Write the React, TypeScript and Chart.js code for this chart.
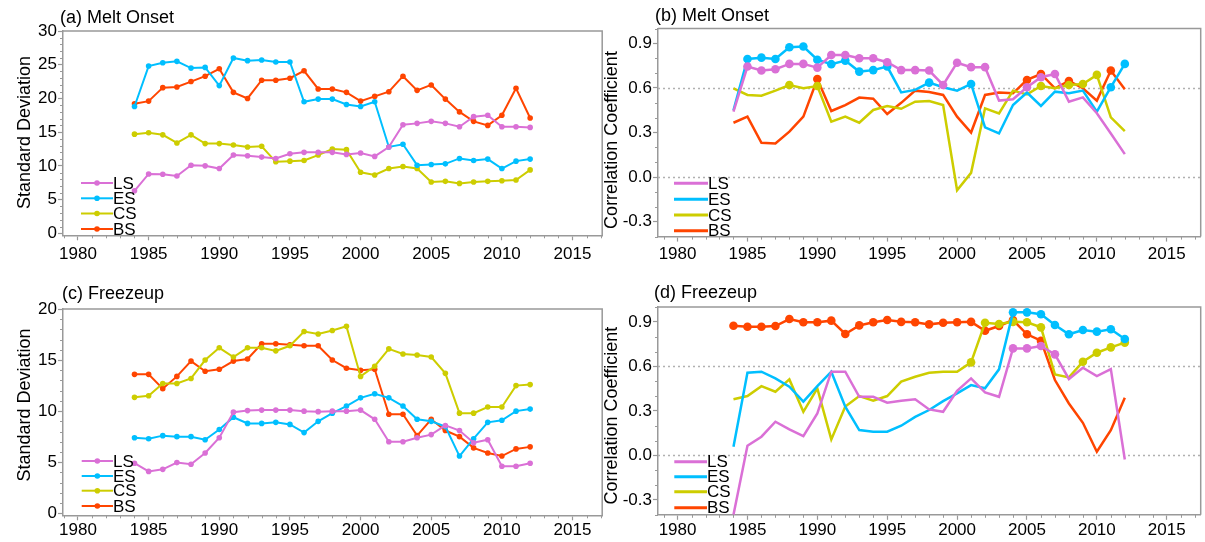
import React, { useEffect, useRef } from 'react';
import { Chart, registerables } from 'chart.js';

Chart.register(...registerables);

const FONT = '"Liberation Sans", Arial, Helvetica, sans-serif';
const AXIS_GRAY = '#999999';

// ---------- data ----------
const years = [1984, 1985, 1986, 1987, 1988, 1989, 1990, 1991, 1992, 1993, 1994, 1995, 1996, 1997, 1998,
  1999, 2000, 2001, 2002, 2003, 2004, 2005, 2006, 2007, 2008, 2009, 2010, 2011, 2012];
const seriesNames = ['LS', 'ES', 'CS', 'BS'];
const seriesColors = ['#DA70D6', '#00BFFF', '#CDCD00', '#FF4500'];

const xTickYears = [1980, 1985, 1990, 1995, 2000, 2005, 2010, 2015];
const sdTicksMelt = [0, 5, 10, 15, 20, 25, 30];
const sdTicksFreeze = [0, 5, 10, 15, 20];
const corrTicks = [-0.3, 0, 0.3, 0.6, 0.9];
const corrRefLines = [0, 0.6];

// (a) Melt onset, standard deviation
const meltSdLS = [6.3, 8.8, 8.75, 8.5, 10.1, 10.0, 9.6, 11.6, 11.5, 11.3, 11.1, 11.8, 12.0, 12.0, 12.0, 11.7, 11.9, 11.4, 12.8, 16.1, 16.3, 16.6, 16.3, 15.8, 17.3, 17.5, 15.8, 15.8, 15.7];
const meltSdES = [18.8, 24.8, 25.3, 25.5, 24.5, 24.6, 21.9, 26.0, 25.6, 25.7, 25.4, 25.4, 19.5, 19.9, 19.9, 19.1, 18.8, 19.5, 12.8, 13.2, 10.1, 10.2, 10.3, 11.1, 10.8, 11.0, 9.6, 10.7, 11.0];
const meltSdCS = [14.7, 14.9, 14.6, 13.4, 14.6, 13.3, 13.3, 13.1, 12.8, 12.9, 10.6, 10.7, 10.8, 11.6, 12.5, 12.4, 9.05, 8.65, 9.6, 9.9, 9.6, 7.6, 7.7, 7.4, 7.6, 7.7, 7.8, 7.9, 9.4];
const meltSdBS = [19.2, 19.6, 21.6, 21.7, 22.5, 23.3, 24.4, 20.9, 20.0, 22.7, 22.7, 23.0, 24.1, 21.4, 21.4, 20.9, 19.6, 20.3, 21.0, 23.3, 21.2, 22.0, 19.9, 18.0, 16.6, 16.0, 17.5, 21.5, 17.1];

// (b) Melt onset, correlation coefficient (+ significant-point flags)
const meltCorrLS = [0.44, 0.744, 0.717, 0.726, 0.762, 0.762, 0.737, 0.822, 0.822, 0.80, 0.80, 0.773, 0.72, 0.72, 0.717, 0.62, 0.77, 0.74, 0.74, 0.515, 0.524, 0.605, 0.672, 0.694, 0.508, 0.537, 0.43, 0.294, 0.155];
const meltCorrES = [0.45, 0.795, 0.804, 0.795, 0.874, 0.879, 0.79, 0.76, 0.784, 0.71, 0.72, 0.744, 0.57, 0.587, 0.636, 0.605, 0.582, 0.627, 0.335, 0.294, 0.485, 0.569, 0.479, 0.575, 0.564, 0.582, 0.44, 0.605, 0.762];
const meltCorrCS = [0.598, 0.553, 0.548, 0.582, 0.62, 0.598, 0.613, 0.373, 0.407, 0.366, 0.452, 0.479, 0.46, 0.508, 0.512, 0.485, -0.088, 0.029, 0.463, 0.429, 0.582, 0.557, 0.613, 0.598, 0.62, 0.627, 0.688, 0.402, 0.31];
const meltCorrBS = [0.366, 0.407, 0.231, 0.227, 0.306, 0.407, 0.66, 0.445, 0.485, 0.535, 0.528, 0.425, 0.50, 0.582, 0.573, 0.553, 0.407, 0.30, 0.553, 0.569, 0.564, 0.654, 0.694, 0.598, 0.647, 0.598, 0.515, 0.717, 0.591];
const meltSigLS = [0, 1, 1, 1, 1, 1, 1, 1, 1, 1, 1, 1, 1, 1, 1, 1, 1, 1, 1, 0, 0, 1, 1, 1, 0, 0, 0, 0, 0];
const meltSigES = [0, 1, 1, 1, 1, 1, 1, 1, 1, 1, 1, 1, 0, 0, 1, 0, 0, 1, 0, 0, 0, 0, 0, 0, 0, 0, 0, 1, 1];
const meltSigCS = [0, 0, 0, 0, 1, 0, 1, 0, 0, 0, 0, 0, 0, 0, 0, 0, 0, 0, 0, 0, 0, 0, 1, 0, 1, 1, 1, 0, 0];
const meltSigBS = [0, 0, 0, 0, 0, 0, 1, 0, 0, 0, 0, 0, 0, 0, 0, 0, 0, 0, 0, 0, 0, 1, 1, 0, 1, 0, 0, 1, 0];

// (c) Freezeup, standard deviation
const frzSdLS = [4.9, 4.1, 4.3, 4.96, 4.8, 5.9, 7.4, 9.9, 10.05, 10.1, 10.1, 10.1, 10.0, 9.95, 10.0, 10.0, 10.1, 9.2, 7.0, 7.0, 7.4, 7.7, 8.6, 8.1, 6.9, 7.2, 4.6, 4.6, 4.9];
const frzSdES = [7.4, 7.3, 7.6, 7.5, 7.5, 7.2, 8.2, 9.4, 8.8, 8.8, 8.9, 8.7, 7.9, 9.0, 9.8, 10.5, 11.3, 11.7, 11.3, 10.5, 9.2, 9.0, 8.5, 5.6, 7.3, 8.9, 9.1, 10.0, 10.2];
const frzSdCS = [11.35, 11.5, 12.7, 12.7, 13.2, 15.0, 16.2, 15.3, 16.2, 16.2, 15.9, 16.4, 17.8, 17.55, 17.9, 18.3, 13.4, 14.4, 16.1, 15.6, 15.5, 15.3, 13.7, 9.8, 9.8, 10.4, 10.4, 12.5, 12.6];
const frzSdBS = [13.6, 13.6, 12.2, 13.4, 14.9, 13.9, 14.1, 14.9, 15.1, 16.6, 16.6, 16.5, 16.4, 16.4, 15.0, 14.2, 14.0, 14.1, 9.7, 9.7, 7.6, 9.2, 8.1, 7.5, 6.4, 5.9, 5.6, 6.3, 6.5];

// (d) Freezeup, correlation coefficient (+ significant-point flags)
const frzCorrLS = [-0.40, 0.065, 0.126, 0.227, 0.175, 0.13, 0.283, 0.564, 0.564, 0.395, 0.395, 0.355, 0.369, 0.378, 0.31, 0.294, 0.436, 0.519, 0.425, 0.395, 0.721, 0.721, 0.737, 0.681, 0.515, 0.591, 0.535, 0.582, -0.027];
const frzCorrES = [0.058, 0.557, 0.564, 0.519, 0.463, 0.362, 0.467, 0.564, 0.328, 0.171, 0.16, 0.16, 0.20, 0.26, 0.306, 0.366, 0.418, 0.474, 0.452, 0.58, 0.964, 0.964, 0.951, 0.879, 0.816, 0.845, 0.834, 0.85, 0.784];
const frzCorrCS = [0.378, 0.40, 0.467, 0.429, 0.512, 0.294, 0.452, 0.108, 0.33, 0.40, 0.369, 0.40, 0.497, 0.53, 0.557, 0.564, 0.564, 0.627, 0.894, 0.885, 0.90, 0.897, 0.863, 0.546, 0.526, 0.631, 0.692, 0.728, 0.76];
const frzCorrBS = [0.874, 0.867, 0.867, 0.872, 0.919, 0.897, 0.897, 0.908, 0.818, 0.876, 0.897, 0.912, 0.90, 0.897, 0.883, 0.894, 0.897, 0.90, 0.84, 0.872, 0.912, 0.816, 0.773, 0.508, 0.35, 0.22, 0.025, 0.17, 0.389];
const frzSigLS = [0, 0, 0, 0, 0, 0, 0, 0, 0, 0, 0, 0, 0, 0, 0, 0, 0, 0, 0, 0, 1, 1, 1, 1, 0, 0, 0, 0, 0];
const frzSigES = [0, 0, 0, 0, 0, 0, 0, 0, 0, 0, 0, 0, 0, 0, 0, 0, 0, 0, 0, 0, 1, 1, 1, 1, 1, 1, 1, 1, 1];
const frzSigCS = [0, 0, 0, 0, 0, 0, 0, 0, 0, 0, 0, 0, 0, 0, 0, 0, 0, 1, 1, 1, 1, 1, 1, 0, 0, 1, 1, 1, 1];
const frzSigBS = [1, 1, 1, 1, 1, 1, 1, 1, 1, 1, 1, 1, 1, 1, 1, 1, 1, 1, 1, 1, 1, 1, 1, 0, 0, 0, 0, 0, 0];

// ---------- panel layout specs ----------
type Spec = {
  left: number; top: number; width: number; height: number;
  area: { left: number; top: number; right: number; bottom: number };
  xMin: number; xMax: number; yMin: number; yMax: number;
  yTicks: number[]; yMinorStep: number; corr: boolean;
  title: string; titleX: number; titleY: number;
  yTitle: string; yTitleX: number; yTitleY: number;
  series: number[][]; sig: number[][] | null;
  lineWidth: number; radius: number;
  legendX0: number; legendX1: number; legendRows: number[];
  xLabelPad: number;
};

const panels: Spec[] = [
  {
    left: 0, top: 0, width: 605, height: 270,
    area: { left: 63, top: 31, right: 602.5, bottom: 235.3 },
    xMin: 1978.94, xMax: 2017.1, yMin: -0.3, yMax: 30,
    yTicks: sdTicksMelt, yMinorStep: 1, corr: false,
    title: '(a) Melt Onset', titleX: 60, titleY: 18.5,
    yTitle: 'Standard Deviation', yTitleX: 25, yTitleY: 132.5,
    series: [meltSdLS, meltSdES, meltSdCS, meltSdBS], sig: null,
    lineWidth: 2, radius: 2.8,
    legendX0: 81, legendX1: 113, legendRows: [183, 198.3, 213.5, 229],
    xLabelPad: 4,
  },
  {
    left: 595, top: 0, width: 610, height: 270,
    area: { left: 63, top: 28.5, right: 608.3, bottom: 236.6 },
    xMin: 1978.6, xMax: 2017.43, yMin: -0.4, yMax: 1.0,
    yTicks: corrTicks, yMinorStep: 0.1, corr: true,
    title: '(b) Melt Onset', titleX: 60, titleY: 16.5,
    yTitle: 'Correlation Coefficient', yTitleX: 17, yTitleY: 140,
    series: [meltCorrLS, meltCorrES, meltCorrCS, meltCorrBS], sig: [meltSigLS, meltSigES, meltSigCS, meltSigBS],
    lineWidth: 2.5, radius: 4.3,
    legendX0: 79, legendX1: 113, legendRows: [183.3, 199.3, 215, 230.7],
    xLabelPad: 3,
  },
  {
    left: 0, top: 270, width: 605, height: 272,
    area: { left: 63, top: 39, right: 602.5, bottom: 245.3 },
    xMin: 1978.94, xMax: 2017.1, yMin: -0.2, yMax: 20,
    yTicks: sdTicksFreeze, yMinorStep: 1, corr: false,
    title: '(c) Freezeup', titleX: 62, titleY: 24,
    yTitle: 'Standard Deviation', yTitleX: 25, yTitleY: 135,
    series: [frzSdLS, frzSdES, frzSdCS, frzSdBS], sig: null,
    lineWidth: 2, radius: 2.8,
    legendX0: 81.7, legendX1: 113, legendRows: [191, 206, 220.7, 236],
    xLabelPad: 0,
  },
  {
    left: 595, top: 270, width: 610, height: 272,
    area: { left: 63, top: 37, right: 608.3, bottom: 244.8 },
    xMin: 1978.6, xMax: 2017.43, yMin: -0.4, yMax: 1.0,
    yTicks: corrTicks, yMinorStep: 0.1, corr: true,
    title: '(d) Freezeup', titleX: 59, titleY: 23,
    yTitle: 'Correlation Coefficient', yTitleX: 17, yTitleY: 145.7,
    series: [frzCorrLS, frzCorrES, frzCorrCS, frzCorrBS], sig: [frzSigLS, frzSigES, frzSigCS, frzSigBS],
    lineWidth: 2.5, radius: 4.3,
    legendX0: 79.3, legendX1: 112, legendRows: [191.7, 206.7, 221.7, 237.7],
    xLabelPad: 0,
  },
];

function decorPlugin(spec: Spec) {
  return {
    id: 'decor',
    beforeDatasetsDraw(chart: any) {
      if (!spec.corr) return;
      const { ctx, chartArea: a } = chart;
      const y = chart.scales.y;
      ctx.save();
      ctx.strokeStyle = '#b0b0b0';
      ctx.lineWidth = 1.5;
      ctx.setLineDash([2, 3]);
      for (const v of corrRefLines) {
        const py = Math.round(y.getPixelForValue(v)) + 0.5;
        ctx.beginPath();
        ctx.moveTo(a.left, py);
        ctx.lineTo(a.right, py);
        ctx.stroke();
      }
      ctx.restore();
    },
    afterDatasetsDraw(chart: any) {
      const { ctx } = chart;
      ctx.save();
      seriesNames.forEach((name, i) => {
        const yy = spec.legendRows[i];
        ctx.strokeStyle = seriesColors[i];
        ctx.lineWidth = spec.corr ? 3 : 2;
        ctx.beginPath();
        ctx.moveTo(spec.legendX0, yy);
        ctx.lineTo(spec.legendX1, yy);
        ctx.stroke();
        if (!spec.corr) {
          ctx.fillStyle = seriesColors[i];
          ctx.beginPath();
          ctx.arc((spec.legendX0 + spec.legendX1) / 2, yy, spec.radius, 0, Math.PI * 2);
          ctx.fill();
        }
        ctx.fillStyle = '#000';
        ctx.font = `17px ${FONT}`;
        ctx.textAlign = 'left';
        ctx.textBaseline = 'middle';
        ctx.fillText(name, spec.legendX1, yy + 1);
      });
      ctx.restore();
    },
    afterDraw(chart: any) {
      const { ctx, chartArea: a } = chart;
      const xs = chart.scales.x;
      const ys = chart.scales.y;
      ctx.save();
      // top and right frame lines
      ctx.strokeStyle = AXIS_GRAY;
      ctx.lineWidth = 1.5;
      ctx.beginPath();
      ctx.moveTo(a.left, a.top);
      ctx.lineTo(a.right, a.top);
      ctx.lineTo(a.right, a.bottom);
      ctx.stroke();
      // minor ticks
      ctx.lineWidth = 1;
      ctx.beginPath();
      for (let v = Math.ceil(spec.xMin); v <= spec.xMax; v++) {
        if (xTickYears.includes(v)) continue;
        const px = Math.round(xs.getPixelForValue(v)) + 0.5;
        ctx.moveTo(px, a.bottom);
        ctx.lineTo(px, a.bottom + 3);
      }
      const k0 = Math.ceil(spec.yMin / spec.yMinorStep - 1e-6);
      const k1 = Math.floor(spec.yMax / spec.yMinorStep + 1e-6);
      for (let k = k0; k <= k1; k++) {
        const v = k * spec.yMinorStep;
        if (spec.yTicks.some((t) => Math.abs(t - v) < 1e-6)) continue;
        const py = Math.round(ys.getPixelForValue(v)) + 0.5;
        ctx.moveTo(a.left, py);
        ctx.lineTo(a.left - 3, py);
      }
      ctx.stroke();
      // panel title
      ctx.fillStyle = '#000';
      ctx.font = `18px ${FONT}`;
      ctx.textAlign = 'left';
      ctx.textBaseline = 'middle';
      ctx.fillText(spec.title, spec.titleX, spec.titleY);
      // y-axis title
      ctx.translate(spec.yTitleX, spec.yTitleY);
      ctx.rotate(-Math.PI / 2);
      ctx.textAlign = 'center';
      ctx.fillText(spec.yTitle, 0, 0);
      ctx.restore();
    },
  };
}

function Panel({ spec }: { spec: Spec }) {
  const ref = useRef<HTMLCanvasElement>(null);
  useEffect(() => {
    const canvas = ref.current;
    if (!canvas) return;
    const datasets = spec.series.map((vals, i) => ({
      label: seriesNames[i],
      data: years.map((yr, j) => ({ x: yr, y: vals[j] })),
      borderColor: seriesColors[i],
      backgroundColor: seriesColors[i],
      pointBackgroundColor: seriesColors[i],
      pointBorderWidth: 0,
      borderWidth: spec.lineWidth,
      pointRadius: spec.sig ? spec.sig[i].map((s) => (s ? spec.radius : 0)) : spec.radius,
      pointHoverRadius: 0,
      tension: 0,
    }));
    const chart = new Chart(canvas, {
      type: 'line',
      data: { datasets },
      options: {
        animation: false,
        responsive: false,
        maintainAspectRatio: false,
        devicePixelRatio: 1,
        events: [],
        layout: {
          padding: { left: 0, top: spec.area.top, right: spec.width - spec.area.right, bottom: 0 },
        },
        plugins: { legend: { display: false }, tooltip: { enabled: false }, title: { display: false } },
        scales: {
          x: {
            type: 'linear',
            min: spec.xMin,
            max: spec.xMax,
            afterBuildTicks: (s: any) => { s.ticks = xTickYears.map((v) => ({ value: v })); },
            afterFit: (s: any) => { s.height = spec.height - spec.area.bottom; },
            ticks: {
              autoSkip: false,
              maxRotation: 0,
              padding: spec.xLabelPad,
              color: '#000',
              font: { family: FONT, size: 17 },
              callback: (v: any) => String(v),
            },
            grid: { display: true, drawOnChartArea: false, drawTicks: true, tickLength: 5, tickColor: AXIS_GRAY, tickWidth: 1.2 },
            border: { display: true, color: AXIS_GRAY, width: 1.5 },
          },
          y: {
            type: 'linear',
            min: spec.yMin,
            max: spec.yMax,
            afterBuildTicks: (s: any) => { s.ticks = spec.yTicks.map((v) => ({ value: v })); },
            afterFit: (s: any) => { s.width = spec.area.left; },
            ticks: {
              autoSkip: false,
              padding: 1,
              color: '#000',
              font: { family: FONT, size: 17 },
              callback: (v: any) => (spec.corr ? Number(v).toFixed(1) : String(v)),
            },
            grid: { display: true, drawOnChartArea: false, drawTicks: true, tickLength: 5, tickColor: AXIS_GRAY, tickWidth: 1.2 },
            border: { display: true, color: AXIS_GRAY, width: 1.5 },
          },
        },
      },
      plugins: [decorPlugin(spec)],
    } as any);
    return () => chart.destroy();
  }, [spec]);
  return (
    <canvas
      ref={ref}
      width={spec.width}
      height={spec.height}
      style={{ position: 'absolute', left: spec.left, top: spec.top, width: spec.width, height: spec.height }}
    />
  );
}

export default function App() {
  return (
    <div style={{ position: 'absolute', left: 0, top: 0, width: 1205, height: 542, background: '#ffffff', overflow: 'hidden' }}>
      {panels.map((p, i) => (
        <Panel key={i} spec={p} />
      ))}
    </div>
  );
}
